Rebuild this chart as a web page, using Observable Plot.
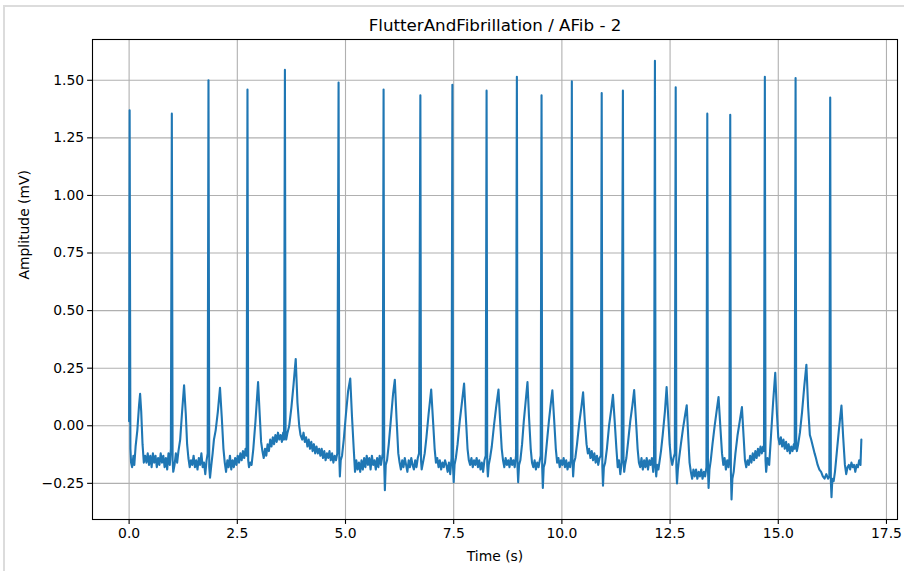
<!DOCTYPE html>
<html>
<head>
<meta charset="utf-8">
<script src="https://cdn.jsdelivr.net/npm/d3@7"></script>
<script src="https://cdn.jsdelivr.net/npm/@observablehq/plot@0.6"></script>
<style>
  html, body { margin: 0; padding: 0; background: #fff; }
  #wrap { position: relative; width: 904px; height: 571px; overflow: hidden; }
  #frame { position: absolute; left: 3px; top: 5px; width: 920px; height: 600px;
           border-left: 2px solid #dcdcdc; border-top: 2px solid #dcdcdc; pointer-events: none; }
  #chart { position: absolute; left: 0; top: 0; }
  svg { font-family: "DejaVu Sans", sans-serif; }
</style>
</head>
<body>
<div id="wrap"><div id="chart"></div><div id="frame"></div></div>
<script>
const chartTitle = "FlutterAndFibrillation / AFib - 2";
const xLabel = "Time (s)";
const yLabel = "Amplitude (mV)";
const xTicks = [0, 2.5, 5, 7.5, 10, 12.5, 15, 17.5];
const yTicks = [-0.25, 0, 0.25, 0.5, 0.75, 1, 1.25, 1.5];

const ecgTime = [
  0.000, 0.012, 0.030, 0.045, 0.07, 0.10, 0.12, 0.15, 0.19, 0.23,
  0.254, 0.28, 0.31, 0.34, 0.37, 0.40, 0.43, 0.46, 0.49, 0.52,
  0.55, 0.58, 0.61, 0.64, 0.67, 0.70, 0.73, 0.76, 0.79, 0.82,
  0.85, 0.88, 0.91, 0.94, 0.965, 0.987, 1.005, 1.02, 1.05, 1.08,
  1.11, 1.14, 1.18, 1.22, 1.27, 1.31, 1.34, 1.37, 1.40, 1.43,
  1.46, 1.49, 1.52, 1.55, 1.58, 1.61, 1.64, 1.67, 1.70, 1.73,
  1.76, 1.79, 1.815, 1.834, 1.852, 1.87, 1.90, 1.93, 1.96, 2.00,
  2.05, 2.10, 2.14, 2.18, 2.21, 2.24, 2.27, 2.30, 2.33, 2.36,
  2.39, 2.42, 2.45, 2.48, 2.51, 2.54, 2.57, 2.60, 2.63, 2.66,
  2.69, 2.715, 2.735, 2.752, 2.77, 2.80, 2.83, 2.87, 2.92, 2.98,
  3.02, 3.05, 3.08, 3.11, 3.14, 3.17, 3.20, 3.23, 3.26, 3.29,
  3.32, 3.35, 3.38, 3.41, 3.44, 3.47, 3.50, 3.53, 3.56, 3.58,
  3.60, 3.615, 3.63, 3.66, 3.70, 3.75, 3.80, 3.85, 3.89, 3.93,
  3.96, 4.00, 4.03, 4.06, 4.09, 4.12, 4.15, 4.18, 4.21, 4.24,
  4.27, 4.30, 4.33, 4.36, 4.39, 4.42, 4.45, 4.48, 4.51, 4.54,
  4.57, 4.60, 4.63, 4.66, 4.69, 4.72, 4.75, 4.78, 4.81, 4.84,
  4.857, 4.87, 4.89, 4.92, 4.96, 5.01, 5.06, 5.11, 5.15, 5.19,
  5.22, 5.25, 5.28, 5.31, 5.34, 5.37, 5.40, 5.43, 5.46, 5.49,
  5.52, 5.55, 5.58, 5.61, 5.64, 5.67, 5.70, 5.73, 5.76, 5.79,
  5.82, 5.86, 5.88, 5.895, 5.91, 5.93, 5.96, 6.00, 6.05, 6.10,
  6.14, 6.18, 6.22, 6.25, 6.28, 6.31, 6.34, 6.37, 6.40, 6.43,
  6.46, 6.49, 6.52, 6.55, 6.58, 6.61, 6.64, 6.67, 6.70, 6.73,
  6.745, 6.76, 6.79, 6.83, 6.87, 6.92, 6.98, 7.02, 7.06, 7.09,
  7.12, 7.15, 7.18, 7.21, 7.24, 7.27, 7.30, 7.33, 7.36, 7.39,
  7.42, 7.45, 7.47, 7.485, 7.50, 7.52, 7.55, 7.59, 7.64, 7.69,
  7.74, 7.78, 7.82, 7.85, 7.88, 7.91, 7.94, 7.97, 8.00, 8.03,
  8.06, 8.09, 8.12, 8.15, 8.18, 8.21, 8.24, 8.26, 8.275, 8.29,
  8.31, 8.34, 8.38, 8.43, 8.48, 8.535, 8.57, 8.61, 8.64, 8.67,
  8.70, 8.73, 8.76, 8.79, 8.82, 8.85, 8.88, 8.91, 8.94, 8.96,
  8.975, 8.99, 9.01, 9.04, 9.08, 9.12, 9.16, 9.205, 9.24, 9.28,
  9.31, 9.34, 9.37, 9.40, 9.43, 9.46, 9.49, 9.51, 9.53, 9.545,
  9.56, 9.58, 9.61, 9.65, 9.70, 9.74, 9.78, 9.82, 9.86, 9.89,
  9.92, 9.95, 9.98, 10.01, 10.04, 10.07, 10.10, 10.13, 10.16, 10.19,
  10.21, 10.23, 10.245, 10.26, 10.28, 10.31, 10.35, 10.40, 10.45, 10.49,
  10.53, 10.57, 10.60, 10.63, 10.66, 10.69, 10.72, 10.75, 10.78, 10.81,
  10.84, 10.87, 10.90, 10.92, 10.935, 10.95, 10.97, 11.00, 11.04, 11.09,
  11.14, 11.18, 11.22, 11.26, 11.29, 11.32, 11.35, 11.38, 11.41, 11.425,
  11.44, 11.46, 11.49, 11.53, 11.58, 11.63, 11.67, 11.71, 11.75, 11.78,
  11.81, 11.84, 11.87, 11.90, 11.93, 11.96, 11.99, 12.02, 12.05, 12.08,
  12.11, 12.13, 12.15, 12.165, 12.18, 12.20, 12.23, 12.26, 12.29, 12.33,
  12.38, 12.42, 12.46, 12.49, 12.52, 12.55, 12.58, 12.61, 12.63, 12.645,
  12.66, 12.68, 12.71, 12.75, 12.80, 12.85, 12.885, 12.92, 12.95, 12.98,
  13.01, 13.04, 13.07, 13.10, 13.13, 13.16, 13.19, 13.22, 13.25, 13.28,
  13.31, 13.34, 13.36, 13.375, 13.39, 13.41, 13.44, 13.48, 13.53, 13.58,
  13.62, 13.66, 13.70, 13.73, 13.76, 13.79, 13.82, 13.85, 13.87, 13.89,
  13.905, 13.92, 13.94, 13.97, 14.01, 14.06, 14.11, 14.16, 14.20, 14.23,
  14.26, 14.29, 14.32, 14.35, 14.38, 14.41, 14.44, 14.47, 14.50, 14.53,
  14.56, 14.59, 14.62, 14.65, 14.67, 14.69, 14.705, 14.72, 14.75, 14.79,
  14.83, 14.88, 14.93, 14.97, 15.00, 15.03, 15.06, 15.09, 15.12, 15.15,
  15.18, 15.21, 15.24, 15.27, 15.30, 15.33, 15.36, 15.38, 15.40, 15.415,
  15.43, 15.46, 15.50, 15.55, 15.60, 15.65, 15.69, 15.73, 15.76, 15.80,
  15.84, 15.87, 15.91, 15.95, 15.99, 16.03, 16.07, 16.11, 16.15, 16.18,
  16.20, 16.215, 16.23, 16.25, 16.28, 16.31, 16.35, 16.40, 16.46, 16.50,
  16.54, 16.57, 16.60, 16.63, 16.66, 16.69, 16.72, 16.75, 16.78, 16.81,
  16.84, 16.87, 16.90, 16.92
];

const ecgAmplitude = [
  0.02, 1.37, -0.10, -0.16, -0.18, -0.13, -0.17, -0.09, -0.02, 0.09,
  0.139, 0.06, -0.08, -0.16, -0.13, -0.16, -0.12, -0.17, -0.13, -0.18,
  -0.12, -0.16, -0.13, -0.18, -0.14, -0.17, -0.12, -0.16, -0.13, -0.18,
  -0.14, -0.19, -0.12, -0.17, -0.10, 1.355, -0.15, -0.20, -0.17, -0.12,
  -0.16, -0.11, -0.06, 0.05, 0.176, 0.05, -0.08, -0.14, -0.18, -0.15,
  -0.17, -0.13, -0.18, -0.15, -0.19, -0.14, -0.17, -0.12, -0.18, -0.16,
  -0.21, -0.15, -0.12, 1.50, -0.18, -0.225, -0.17, -0.12, -0.06, -0.02,
  0.06, 0.165, 0.04, -0.10, -0.16, -0.20, -0.15, -0.18, -0.13, -0.19,
  -0.15, -0.18, -0.14, -0.17, -0.13, -0.16, -0.12, -0.15, -0.11, -0.14,
  -0.10, -0.13, 1.46, -0.15, -0.18, -0.16, -0.17, -0.10, 0.02, 0.19,
  0.04, -0.07, -0.11, -0.14, -0.10, -0.13, -0.08, -0.11, -0.06, -0.09,
  -0.05, -0.08, -0.04, -0.07, -0.03, -0.06, -0.04, -0.07, -0.03, -0.06,
  1.545, -0.02, -0.06, -0.03, 0.00, 0.08, 0.18, 0.29, 0.10, 0.00,
  -0.04, -0.06, -0.03, -0.07, -0.05, -0.09, -0.06, -0.10, -0.07, -0.11,
  -0.08, -0.12, -0.09, -0.12, -0.10, -0.13, -0.10, -0.14, -0.11, -0.15,
  -0.12, -0.14, -0.11, -0.15, -0.12, -0.16, -0.13, -0.15, -0.12, 1.49,
  -0.14, -0.22, -0.15, -0.13, -0.06, 0.05, 0.15, 0.205, 0.04, -0.10,
  -0.20, -0.15, -0.19, -0.16, -0.20, -0.15, -0.19, -0.14, -0.18, -0.13,
  -0.17, -0.14, -0.19, -0.13, -0.17, -0.15, -0.19, -0.14, -0.18, -0.13,
  -0.17, -0.12, 1.46, -0.17, -0.28, -0.17, -0.15, -0.08, 0.03, 0.14,
  0.20, 0.03, -0.12, -0.16, -0.19, -0.15, -0.18, -0.14, -0.17, -0.20,
  -0.15, -0.18, -0.14, -0.17, -0.19, -0.15, -0.18, -0.14, -0.12, 1.435,
  -0.15, -0.19, -0.16, -0.12, -0.05, 0.05, 0.157, 0.03, -0.10, -0.16,
  -0.14, -0.18, -0.15, -0.19, -0.16, -0.18, -0.15, -0.17, -0.20, -0.16,
  -0.21, -0.14, 1.48, -0.18, -0.245, -0.17, -0.14, -0.08, 0.02, 0.10,
  0.183, 0.04, -0.10, -0.15, -0.17, -0.14, -0.18, -0.15, -0.17, -0.14,
  -0.18, -0.15, -0.19, -0.16, -0.20, -0.15, -0.13, 1.455, -0.17, -0.22,
  -0.17, -0.14, -0.09, 0.00, 0.08, 0.157, 0.03, -0.10, -0.15, -0.18,
  -0.14, -0.17, -0.15, -0.18, -0.14, -0.17, -0.15, -0.18, -0.13, 1.515,
  -0.18, -0.245, -0.17, -0.15, -0.08, 0.02, 0.10, 0.19, 0.04, -0.10,
  -0.16, -0.18, -0.15, -0.19, -0.16, -0.18, -0.15, -0.13, 1.435, -0.18,
  -0.27, -0.18, -0.16, -0.08, 0.02, 0.09, 0.154, 0.03, -0.10, -0.16,
  -0.14, -0.18, -0.15, -0.17, -0.14, -0.18, -0.15, -0.19, -0.16, -0.18,
  -0.14, 1.495, -0.15, -0.22, -0.16, -0.14, -0.08, 0.01, 0.08, 0.145,
  0.02, -0.08, -0.12, -0.10, -0.14, -0.11, -0.15, -0.12, -0.16, -0.13,
  -0.17, -0.14, -0.13, 1.445, -0.18, -0.26, -0.18, -0.16, -0.10, 0.00,
  0.07, 0.134, 0.02, -0.10, -0.18, -0.15, -0.21, -0.16, 1.455, -0.15,
  -0.20, -0.17, -0.14, -0.07, 0.02, 0.09, 0.155, 0.03, -0.10, -0.16,
  -0.18, -0.14, -0.19, -0.15, -0.18, -0.14, -0.19, -0.15, -0.17, -0.14,
  -0.20, -0.14, 1.585, -0.18, -0.22, -0.17, -0.19, -0.15, -0.11, -0.04,
  0.06, 0.168, 0.03, -0.08, -0.14, -0.17, -0.14, -0.12, 1.47, -0.18,
  -0.25, -0.19, -0.14, -0.08, -0.01, 0.05, 0.089, -0.05, -0.16, -0.20,
  -0.23, -0.19, -0.22, -0.19, -0.23, -0.20, -0.22, -0.19, -0.23, -0.20,
  -0.22, -0.18, 1.355, -0.19, -0.27, -0.19, -0.15, -0.08, 0.00, 0.07,
  0.125, 0.00, -0.12, -0.17, -0.14, -0.19, -0.15, -0.18, -0.14, 1.35,
  -0.20, -0.32, -0.23, -0.20, -0.12, -0.04, 0.02, 0.081, -0.05, -0.15,
  -0.18, -0.15, -0.17, -0.13, -0.16, -0.12, -0.15, -0.11, -0.14, -0.10,
  -0.13, -0.09, -0.12, -0.09, -0.11, 1.515, -0.15, -0.20, -0.14, -0.17,
  -0.05, 0.10, 0.23, 0.05, -0.05, -0.08, -0.05, -0.09, -0.06, -0.10,
  -0.07, -0.11, -0.08, -0.12, -0.09, -0.11, -0.08, -0.10, 1.51, -0.08,
  -0.11, -0.08, -0.03, 0.06, 0.17, 0.265, 0.08, -0.04, -0.06, -0.09,
  -0.12, -0.14, -0.17, -0.19, -0.20, -0.22, -0.23, -0.21, -0.23, -0.22,
  1.425, -0.24, -0.31, -0.23, -0.24, -0.20, -0.12, -0.02, 0.088, -0.05,
  -0.17, -0.21, -0.18, -0.17, -0.19, -0.16, -0.18, -0.17, -0.20, -0.17,
  -0.18, -0.15, -0.17, -0.06
];

const n = Math.min(ecgTime.length, ecgAmplitude.length);
const samples = d3.range(n).map(i => ({t: ecgTime[i], a: ecgAmplitude[i]}));
const fmtX = d => d.toFixed(1);
const fmtY = d => d.toFixed(2).replace("-", "\u2212");

const chart = Plot.plot({
  width: 904,
  height: 571,
  marginLeft: 92,
  marginRight: 7,
  marginTop: 39,
  marginBottom: 52,
  style: {fontFamily: "DejaVu Sans, sans-serif", background: "transparent"},
  x: {domain: [-0.846, 17.755], label: null},
  y: {domain: [-0.407, 1.677], label: null},
  marks: [
    Plot.gridX(xTicks, {stroke: "#b0b0b0", strokeOpacity: 1, strokeWidth: 1.1}),
    Plot.gridY(yTicks, {stroke: "#b0b0b0", strokeOpacity: 1, strokeWidth: 1.1}),
    Plot.line(samples, {x: "t", y: "a", stroke: "#1f77b4", strokeWidth: 2.1, strokeLinejoin: "round"}),
    Plot.frame({stroke: "#000", strokeWidth: 1.1}),
    Plot.axisX(xTicks, {tickSize: 4.9, tickPadding: 3.5, tickFormat: fmtX, fontSize: 13.9, label: null, stroke: "#000", strokeWidth: 1.1}),
    Plot.axisY(yTicks, {tickSize: 4.9, tickPadding: 3.5, tickFormat: fmtY, fontSize: 13.9, label: null, stroke: "#000", strokeWidth: 1.1}),
    Plot.text([chartTitle], {frameAnchor: "top", lineAnchor: "middle", dy: -14, fontSize: 16.7, fill: "#000"}),
    Plot.text([xLabel], {frameAnchor: "bottom", lineAnchor: "middle", dy: 37, fontSize: 13.9, fill: "#000"}),
    Plot.text([yLabel], {frameAnchor: "left", lineAnchor: "middle", dx: -68, rotate: -90, fontSize: 13.9, fill: "#000"})
  ]
});
document.getElementById("chart").appendChild(chart);
</script>
</body>
</html>
